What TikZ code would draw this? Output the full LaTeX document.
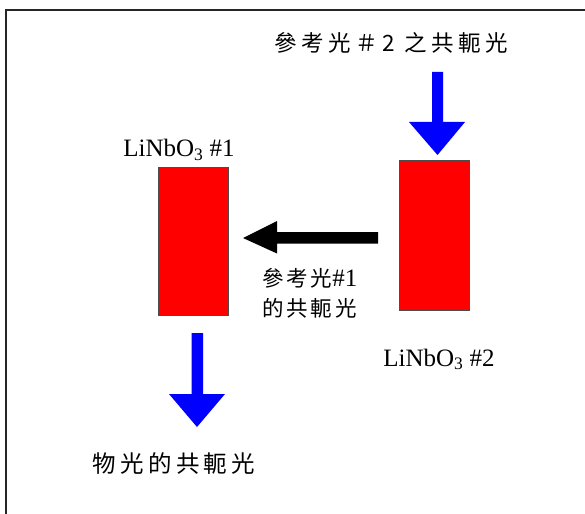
\documentclass[tikz,border=0pt]{standalone}
\usepackage{fontspec}
\setmainfont{Liberation Serif}
\newfontfamily\cjk{Noto Sans CJK TC}
\begin{document}
\begin{tikzpicture}[x=1pt,y=-1pt,
  crystal/.style={draw=black!70,line width=0.8pt,fill=red,minimum width=70pt,inner sep=0pt},
  lab/.style={font=\fontsize{25}{28}\selectfont,inner sep=0pt},
  cjklab/.style={inner sep=0pt},
  bluearrow/.style={fill=blue,draw=none},
  blackarrow/.style={fill=black,draw=none}]
\useasboundingbox (0,0) rectangle (585,513);
% frame
\draw[line width=2.2pt,black!85] (6,520) -- (6,10) -- (590,10);
% crystals
\node[crystal,minimum height=148pt] (c1) at (193,241) {};
\node[crystal,minimum height=150pt] (c2) at (434,235) {};
% crystal labels
\node[lab,anchor=base] (l1) at (179,157) {LiNbO\textsubscript{3} \#1};
\node[lab,anchor=base] (l2) at (439,366) {LiNbO\textsubscript{3} \#2};
% texts
\node[cjklab] (t1) at (391,43) {\cjk\fontsize{22.5}{26}\selectfont\addfontfeature{LetterSpace=20}參考光＃2 之共軛光};
\node[cjklab,align=left,anchor=west,font=\fontsize{21.5}{30}\selectfont] (t2) at (262,293) {{\cjk\addfontfeature{LetterSpace=13}參考光}{\fontsize{25}{30}\selectfont\#1}\\{\cjk\addfontfeature{LetterSpace=13}的共軛光}};
\node[cjklab] (t3) at (174,464) {\cjk\fontsize{23.5}{26}\selectfont\addfontfeature{LetterSpace=18}物光的共軛光};
% arrows
\fill[bluearrow] (432,72) -- (443,72) -- (443,122) -- (465,122) -- (437.5,155) -- (409,122) -- (432,122) -- cycle;
\fill[bluearrow] (191.5,333) -- (203,333) -- (203,394) -- (225,394) -- (197,427) -- (169,394) -- (191.5,394) -- cycle;
\fill[blackarrow] (378,232) -- (378,243.5) -- (277,243.5) -- (277,253.5) -- (243,238) -- (277,221) -- (277,232) -- cycle;
\end{tikzpicture}
\end{document}
